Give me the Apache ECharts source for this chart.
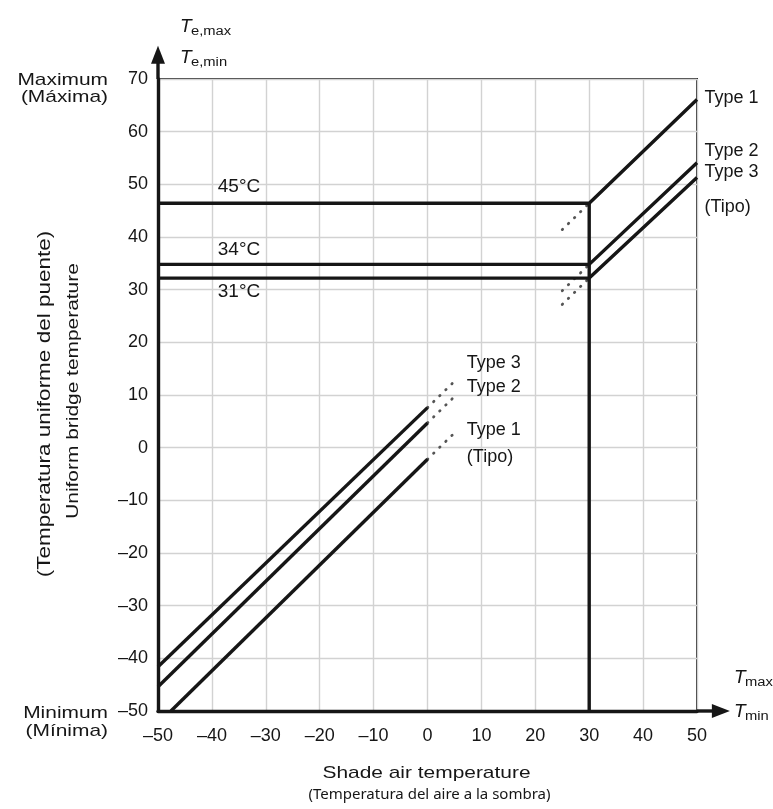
<!DOCTYPE html>
<html><head><meta charset="utf-8">
<script src="https://cdn.jsdelivr.net/npm/echarts@6/dist/echarts.min.js"></script>
<style>html,body{margin:0;padding:0;background:#fff}#c{width:773px;height:809px}</style>
</head><body><div id="c"></div>
<script>
// ---- axis ranges / ticks ----
const xMin = -50, xMax = 50, yMin = -50, yMax = 70, tickStep = 10;
const xArrowEnd = 56.1, yArrowEnd = 76.3;

// ---- maximum lines (Te,max) ----
const maxType1 = [[-50, 46.4], [30, 46.4], [50, 66.1]];
const maxType2 = [[-50, 34.8], [30, 34.8], [50, 54.1]];
const maxType3 = [[-50, 32.2], [30, 32.2], [50, 51.3]];
const verticalAt30 = [[30, -50], [30, 46.4]];
const maxDot1 = [[25, 41.4], [30, 46.4]];
const maxDot2 = [[25, 29.8], [30, 34.8]];
const maxDot3 = [[25, 27.2], [30, 32.2]];

// ---- minimum lines (Te,min) ----
const minType1 = [[-47.6, -50], [0, -2.2]];
const minType2 = [[-50, -45.4], [0, 4.7]];
const minType3 = [[-50, -41.6], [0, 7.6]];
const minDot1 = [[0, -2.2], [5, 2.8]];
const minDot2 = [[0, 4.7], [5, 9.7]];
const minDot3 = [[0, 7.6], [5, 12.6]];

// ---- annotation labels ----
const rightLabels = ['Type 1', 'Type 2', 'Type 3', '(Tipo)'];
const rightLabelY = [66.3, 56.4, 52.4, 45.7];
const minLabels = ['Type 3', 'Type 2', 'Type 1', '(Tipo)'];
const minLabelY = [16.1, 11.6, 3.4, -1.7];
const minLabelX = 7.2;
const tempLabels = ['45°C', '34°C', '31°C'];
const tempLabelY = [49.6, 37.6, 29.6];
const tempLabelX = -39;

const FONT = '"Liberation Sans", Arial, Helvetica, sans-serif';
const INK = '#161616';
const fmt = v => (v < 0 ? '\u2013' + Math.abs(v) : String(v));

const chart = echarts.init(document.getElementById('c'), null, {renderer: 'canvas'});

function solid(name, data) {
  return {name, type: 'line', data, symbol: 'none', silent: true, z: 5,
    lineStyle: {color: INK, width: 3.4, cap: 'butt', join: 'miter'}};
}
function dotted(name, data) {
  return {name, type: 'line', data, symbol: 'none', silent: true, z: 4,
    lineStyle: {color: '#555', width: 2.8, type: [0.5, 8], cap: 'round'}};
}
function labels(name, xs, ys, texts, dist, size) {
  return {name, type: 'scatter', silent: true, z: 6, symbol: 'circle', symbolSize: 1,
    itemStyle: {color: 'rgba(0,0,0,0)', opacity: 1},
    data: texts.map((t, i) => ({value: [Array.isArray(xs) ? xs[i] : xs, ys[i]], name: t})),
    label: {show: true, position: 'right', distance: dist, formatter: p => p.name,
      fontFamily: FONT, fontSize: size, color: INK, opacity: 1}};
}

chart.setOption({
  animation: false,
  backgroundColor: '#fff',
  grid: {left: 158, right: 76, top: 79, bottom: 98, show: true,
    borderColor: '#333', borderWidth: 2, backgroundColor: 'transparent', outerBoundsMode: 'none'},
  xAxis: {type: 'value', min: xMin, max: xMax, interval: tickStep,
    axisLine: {show: true, onZero: false, lineStyle: {color: INK, width: 3.4}},
    axisTick: {show: false},
    splitLine: {show: true, lineStyle: {color: '#d2d2d2', width: 1.4}},
    axisLabel: {margin: 16, fontFamily: FONT, fontSize: 18, color: INK, formatter: fmt}},
  yAxis: {type: 'value', min: yMin, max: yMax, interval: tickStep,
    axisLine: {show: true, onZero: false, lineStyle: {color: INK, width: 3.4}},
    axisTick: {show: false},
    splitLine: {show: true, lineStyle: {color: '#d2d2d2', width: 1.4}},
    axisLabel: {margin: 10, fontFamily: FONT, fontSize: 18, color: INK, formatter: fmt}},
  series: [
    solid('max1', maxType1), solid('max2', maxType2), solid('max3', maxType3),
    solid('v30', verticalAt30),
    solid('min1', minType1), solid('min2', minType2), solid('min3', minType3),
    dotted('md1', maxDot1), dotted('md2', maxDot2), dotted('md3', maxDot3),
    dotted('nd1', minDot1), dotted('nd2', minDot2), dotted('nd3', minDot3),
    labels('rl', xMax, rightLabelY, rightLabels, 7, 18),
    labels('ml', minLabelX, minLabelY, minLabels, 0, 18),
    labels('tl', tempLabelX, tempLabelY, tempLabels, 0, 19)
  ]
});

// ---- arrows and outer texts positioned through the axes ----
const P = (x, y) => chart.convertToPixel({gridIndex: 0}, [x, y]);
const origin = P(xMin, yMin);
const topLeft = P(xMin, yMax);
const xTip = P(xArrowEnd, yMin);
const yTip = P(xMin, yArrowEnd);
const xCenter = P(0, yMin);
const yMid = P(xMin, (yMin + yMax) / 2);
const ah = 18, aw = 7;
const SX = 1.23;

const txt = (x, y, text, extra, sx) => Object.assign({type: 'text', x, y, silent: true, scaleX: sx || 1,
  style: Object.assign({text, fontFamily: FONT, fontSize: 17, fill: INK}, extra || {})});
const T = {fontStyle: 'italic', fontSize: 19, align: 'left', verticalAlign: 'middle'};
const SUB = {fontSize: 12, align: 'left', verticalAlign: 'middle'};

chart.setOption({graphic: [
  {type: 'line', silent: true, shape: {x1: origin[0], y1: topLeft[1], x2: origin[0], y2: yTip[1] + ah - 1},
    style: {stroke: INK, lineWidth: 3.4}},
  {type: 'polygon', silent: true, shape: {points: [[yTip[0], yTip[1]], [yTip[0] - aw, yTip[1] + ah], [yTip[0] + aw, yTip[1] + ah]]},
    style: {fill: INK}},
  {type: 'line', silent: true, shape: {x1: P(xMax, yMin)[0], y1: origin[1], x2: xTip[0] - ah + 1, y2: origin[1]},
    style: {stroke: INK, lineWidth: 3.4}},
  {type: 'polygon', silent: true, shape: {points: [[xTip[0], xTip[1]], [xTip[0] - ah, xTip[1] - aw], [xTip[0] - ah, xTip[1] + aw]]},
    style: {fill: INK}},
  // T labels on y arrow
  txt(topLeft[0] + 22, topLeft[1] - 52, 'T', T),
  txt(topLeft[0] + 33, topLeft[1] - 47, 'e,max', SUB, SX),
  txt(topLeft[0] + 22, topLeft[1] - 21, 'T', T),
  txt(topLeft[0] + 33, topLeft[1] - 16, 'e,min', SUB, SX),
  // T labels on x arrow
  txt(xTip[0] + 4, origin[1] - 33, 'T', T),
  txt(xTip[0] + 15, origin[1] - 28, 'max', SUB, SX),
  txt(xTip[0] + 4, origin[1] + 1, 'T', T),
  txt(xTip[0] + 15, origin[1] + 6, 'min', SUB, SX),
  // Maximum / Minimum
  txt(origin[0] - 50, topLeft[1] + 1, 'Maximum', {align: 'right', verticalAlign: 'middle'}, SX),
  txt(origin[0] - 50, topLeft[1] + 18, '(Máxima)', {align: 'right', verticalAlign: 'middle'}, SX),
  txt(origin[0] - 50, origin[1] + 2, 'Minimum', {align: 'right', verticalAlign: 'middle'}, SX),
  txt(origin[0] - 50, origin[1] + 20, '(Mínima)', {align: 'right', verticalAlign: 'middle'}, SX),
  // x axis name
  txt(xCenter[0] - 1, origin[1] + 62, 'Shade air temperature', {align: 'center', verticalAlign: 'middle'}, SX),
  txt(xCenter[0] + 2, origin[1] + 84, '(Temperatura del aire a la sombra)',
    {align: 'center', verticalAlign: 'middle', fontFamily: '"Noto Sans", "Open Sans", sans-serif', fontSize: 15}),
  // y axis name (rotated)
  {type: 'text', x: origin[0] - 85, y: yMid[1] - 4, rotation: Math.PI / 2, scaleX: SX, silent: true,
    style: {text: 'Uniform bridge temperature', fontFamily: FONT, fontSize: 17, fill: INK, align: 'center', verticalAlign: 'middle'}},
  {type: 'text', x: origin[0] - 113, y: yMid[1] + 9, rotation: Math.PI / 2, scaleX: 1.25, silent: true,
    style: {text: '(Temperatura uniforme del puente)', fontFamily: FONT, fontSize: 18, fill: INK, align: 'center', verticalAlign: 'middle'}}
]});
</script>
</body></html>
